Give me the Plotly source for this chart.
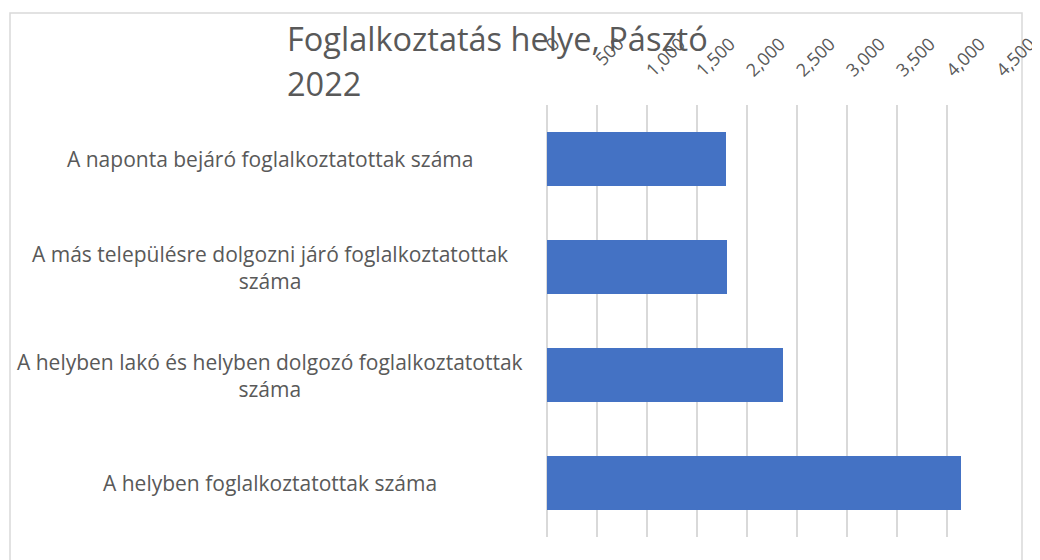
import plotly.graph_objects as go

# ---- data ----
categories = [
    "A naponta bejáró foglalkoztatottak száma",
    "A más településre dolgozni járó foglalkoztatottak száma",
    "A helyben lakó és helyben dolgozó foglalkoztatottak száma",
    "A helyben foglalkoztatottak száma",
]
category_labels = [
    "A naponta bejáró foglalkoztatottak száma",
    "A más településre dolgozni járó foglalkoztatottak<br>száma",
    "A helyben lakó és helyben dolgozó foglalkoztatottak<br>száma",
    "A helyben foglalkoztatottak száma",
]
values = [1790, 1800, 2360, 4140]
tick_values = [0, 500, 1000, 1500, 2000, 2500, 3000, 3500, 4000, 4500]
tick_labels = ["0", "500", "1,000", "1,500", "2,000", "2,500", "3,000", "3,500", "4,000", "4,500"]
title_lines = ["Foglalkoztatás helye, Pásztó", "2022"]

# ---- layout constants (pixels, screen coords; page body has an 8px margin) ----
OFF = 8
W, H = 1040, 560
PLOT_L, PLOT_R, PLOT_T, PLOT_B = 547, 997, 105, 537
L, T = PLOT_L - OFF, PLOT_T - OFF
R, B = W - (PLOT_R - OFF), H - (PLOT_B - OFF)
PW, PH = PLOT_R - PLOT_L, PLOT_B - PLOT_T


def px_x(p):
    return (p - PLOT_L) / PW


def px_y(p):
    return (PLOT_B - p) / PH


TEXT = "#595959"
GRID = "#d9d9d9"
FONT = "Open Sans"

fig = go.Figure(
    go.Bar(
        x=values,
        y=categories,
        orientation="h",
        marker=dict(color="#4472c4", line=dict(width=0)),
        hoverinfo="x+y",
    )
)

annotations = []
for cat, lab in zip(categories, category_labels):
    annotations.append(
        dict(
            x=px_x(270), xref="paper", y=cat, yref="y",
            text=lab, showarrow=False, xanchor="center", yanchor="middle",
            align="center", font=dict(family=FONT, size=21, color=TEXT),
        )
    )

# rotated x tick labels (top band, top-aligned like the reference)
for tv, tl in zip(tick_values, tick_labels):
    annotations.append(dict(
        x=tv, xref="x", y=px_y(29), yref="paper", text=tl, textangle=-45,
        showarrow=False, xanchor="left", yanchor="top", xshift=-10,
        font=dict(family=FONT, size=18, color=TEXT)))

annotations.append(dict(
    x=px_x(285), xref="paper", y=px_y(38), yref="paper", text=title_lines[0],
    showarrow=False, xanchor="left", yanchor="middle",
    font=dict(family=FONT, size=32.5, color=TEXT)))
annotations.append(dict(
    x=px_x(285), xref="paper", y=px_y(83), yref="paper", text=title_lines[1],
    showarrow=False, xanchor="left", yanchor="middle",
    font=dict(family=FONT, size=32.5, color=TEXT)))

fig.update_layout(
    width=W, height=H,
    margin=dict(l=L, r=R, t=T, b=B, autoexpand=False),
    paper_bgcolor="white", plot_bgcolor="white",
    bargap=0.5,
    showlegend=False,
    font=dict(family=FONT, color=TEXT),
    annotations=annotations,
    shapes=[dict(
        type="rect", xref="paper", yref="paper",
        x0=px_x(10), x1=px_x(1022), y0=px_y(580), y1=px_y(13),
        line=dict(color=GRID, width=1.5), fillcolor="rgba(0,0,0,0)", layer="below",
    )],
    xaxis=dict(
        side="top", range=[0, 4500], tickvals=tick_values, ticktext=tick_labels,
        showticklabels=False,
        showgrid=True, gridcolor=GRID, gridwidth=1.5,
        zeroline=True, zerolinecolor=GRID, zerolinewidth=1.5,
        showline=False, ticks="", fixedrange=True,
    ),
    yaxis=dict(
        autorange="reversed", showticklabels=False, showgrid=False,
        zeroline=False, showline=False, ticks="", fixedrange=True,
    ),
)

fig.write_html("out.html")
